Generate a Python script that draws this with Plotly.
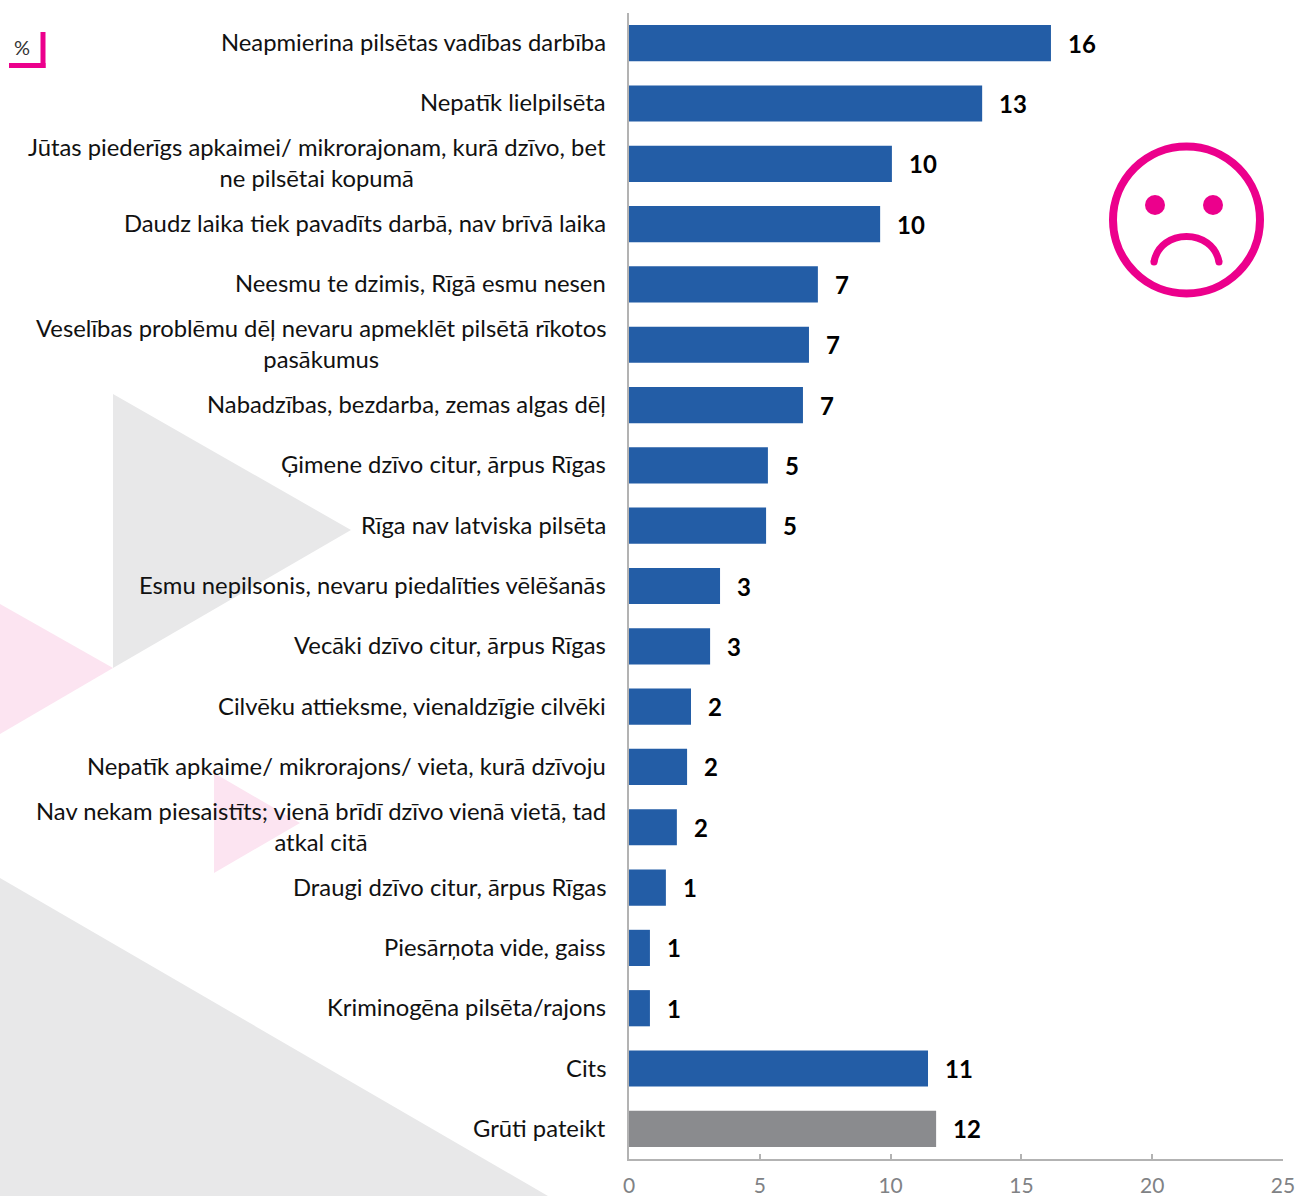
import plotly.graph_objects as go

W, H = 1298, 1196
PL, PR, PT, PB = 629, 1283, 13, 1159

categories = [
    "Neapmierina pilsētas vadības darbība",
    "Nepatīk lielpilsēta",
    "Jūtas piederīgs apkaimei/ mikrorajonam, kurā dzīvo, bet<br>ne pilsētai kopumā",
    "Daudz laika tiek pavadīts darbā, nav brīvā laika",
    "Neesmu te dzimis, Rīgā esmu nesen",
    "Veselības problēmu dēļ nevaru apmeklēt pilsētā rīkotos<br>pasākumus",
    "Nabadzības, bezdarba, zemas algas dēļ",
    "Ģimene dzīvo citur, ārpus Rīgas",
    "Rīga nav latviska pilsēta",
    "Esmu nepilsonis, nevaru piedalīties vēlēšanās",
    "Vecāki dzīvo citur, ārpus Rīgas",
    "Cilvēku attieksme, vienaldzīgie cilvēki",
    "Nepatīk apkaime/ mikrorajons/ vieta, kurā dzīvoju",
    "Nav nekam piesaistīts; vienā brīdī dzīvo vienā vietā, tad<br>atkal citā",
    "Draugi dzīvo citur, ārpus Rīgas",
    "Piesārņota vide, gaiss",
    "Kriminogēna pilsēta/rajons",
    "Cits",
    "Grūti pateikt",
]
values = [16.13, 13.5, 10.05, 9.6, 7.22, 6.88, 6.65, 5.31, 5.24, 3.48, 3.1, 2.37, 2.22, 1.83, 1.41, 0.8, 0.8, 11.43, 11.74]
value_labels = ["16", "13", "10", "10", "7", "7", "7", "5", "5", "3", "3", "2", "2", "2", "1", "1", "1", "11", "12"]
bar_colors = ["#235da6"] * 18 + ["#8a8b8e"]
x_ticks = [0, 5, 10, 15, 20, 25]

FONT = "Lato"
PINK = "#ec008c"


def px(x):
    return (x - PL) / (PR - PL)


def py(y):
    return 1 - (y - PT) / (PB - PT)


def poly(points, color):
    path = "M " + " L ".join(f"{px(a):.5f},{py(b):.5f}" for a, b in points) + " Z"
    return dict(type="path", xref="paper", yref="paper", path=path, fillcolor=color,
                line_width=0, layer="below")


def circle(cx, cy, r, fill, line_color=None, line_width=0):
    return dict(type="circle", xref="paper", yref="paper", x0=px(cx - r), x1=px(cx + r),
                y0=py(cy + r), y1=py(cy - r), fillcolor=fill,
                line=dict(color=line_color or fill, width=line_width), layer="above")


def segment(x0, y0, x1, y1):
    return dict(type="line", xref="paper", yref="paper", x0=px(x0), y0=py(y0), x1=px(x1), y1=py(y1),
                line=dict(color=PINK, width=5), layer="above")


shapes = [
    poly([(113, 394), (351, 530), (113, 668)], "#e8e8e9"),
    poly([(0, 604), (113, 668), (0, 734)], "#fce4f1"),
    poly([(214, 773), (300, 823), (214, 873)], "#fce4f1"),
    poly([(0, 878), (548, 1196), (0, 1196)], "#e8e8e9"),
    segment(9, 65.5, 45.5, 65.5),
    segment(43, 32, 43, 68),
    circle(1186.5, 220, 73.5, "rgba(255,255,255,0)", PINK, 8),
    circle(1155, 205, 10, PINK),
    circle(1213, 205, 10, PINK),
    dict(type="path", xref="paper", yref="paper",
         path=(f"M {px(1154):.5f},{py(262):.5f} C {px(1160):.5f},{py(228):.5f} "
               f"{px(1213):.5f},{py(228):.5f} {px(1219):.5f},{py(262):.5f}"),
         line=dict(color=PINK, width=7), layer="above"),
    circle(1154, 262, 3.5, PINK),
    circle(1219, 262, 3.5, PINK),
]

fig = go.Figure(go.Bar(
    x=values, y=categories, orientation="h",
    marker=dict(color=bar_colors, line_width=0),
    text=value_labels, textposition="none",
    hoverinfo="x+y",
))

annotations = [
    dict(x=0, y=c, xref="x", yref="y", text=c, showarrow=False, xanchor="right", align="center",
         xshift=-21, yshift=1, font=dict(family=FONT, size=23.8, color="#111111"))
    for c in categories
]
annotations += [
    dict(x=v, y=c, xref="x", yref="y", text=f"<b>{t}</b>", showarrow=False, xanchor="left",
         xshift=15, yshift=0, font=dict(family=FONT, size=24, color="#000000"))
    for v, c, t in zip(values, categories, value_labels)
]
annotations.append(dict(x=px(22), y=py(47), xref="paper", yref="paper", text="%", showarrow=False,
                        xanchor="center", yanchor="middle",
                        font=dict(family=FONT, size=20, color="#333333")))

fig.update_layout(
    width=W, height=H, autosize=False,
    margin=dict(l=PL, r=W - PR, t=PT, b=H - PB, pad=0),
    paper_bgcolor="white", plot_bgcolor="rgba(0,0,0,0)",
    bargap=0.4, showlegend=False,
    shapes=shapes, annotations=annotations,
    font=dict(family=FONT),
    xaxis=dict(range=[0, 25], tickvals=x_ticks, showgrid=False, zeroline=False, automargin=False,
               showline=True, linecolor="#b3b3b3", linewidth=2, ticks="inside", ticklen=5,
               tickcolor="#b3b3b3", tickwidth=2, ticklabelstandoff=7,
               tickfont=dict(family=FONT, size=21, color="#808285")),
    yaxis=dict(categoryorder="array", categoryarray=categories, autorange="reversed", automargin=False,
               showticklabels=False, showgrid=False, zeroline=False, showline=True,
               linecolor="#b3b3b3", linewidth=2, ticks=""),
)
fig.write_html("out.html", config={"displayModeBar": False, "responsive": False},
               post_script="document.body.style.margin='0';document.documentElement.style.overflow='hidden';")
